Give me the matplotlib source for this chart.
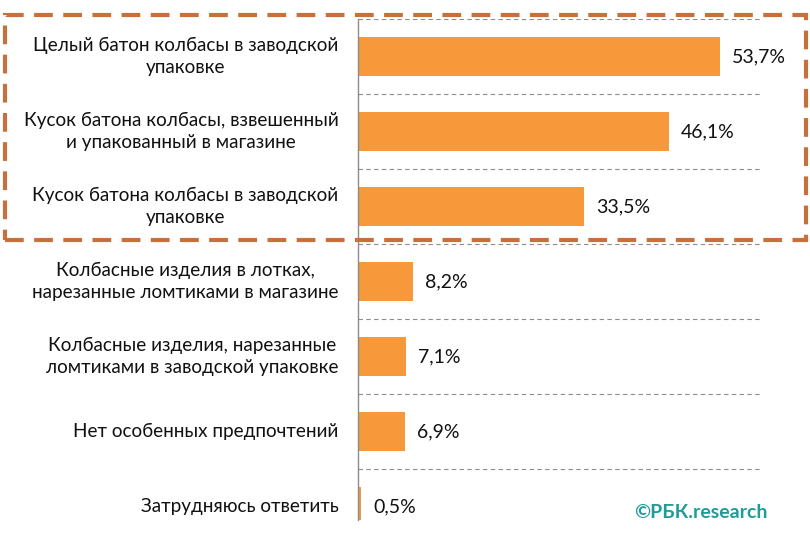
import matplotlib.pyplot as plt
from matplotlib.patches import Rectangle

# Chart data (share of respondents, %)
labels = [
    "Целый батон колбасы в заводской\nупаковке",
    "Кусок батона колбасы, взвешенный\nи упакованный в магазине",
    "Кусок батона колбасы в заводской\nупаковке",
    "Колбасные изделия в лотках,\nнарезанные ломтиками в магазине",
    "Колбасные изделия, нарезанные\nломтиками в заводской упаковке",
    "Нет особенных предпочтений",
    "Затрудняюсь ответить",
]
values = [53.7, 46.1, 33.5, 8.2, 7.1, 6.9, 0.5]
value_labels = ["53,7%", "46,1%", "33,5%", "8,2%", "7,1%", "6,9%", "0,5%"]

bar_color = "#F7993A"
box_color = "#C8703C"

plt.rcParams['font.family'] = ['Lato', 'DejaVu Sans']

fig = plt.figure(figsize=(8.1, 5.44), dpi=100)
ax = fig.add_axes([0.442, 0.044, 0.499, 0.921])

pos = list(range(len(values)))
ax.barh(pos, values, height=0.53, color=bar_color, zorder=2)
ax.set_xlim(0, 60)
ax.set_ylim(6.18, -0.5)

# dashed separators between categories
for y in [-0.5, 0.5, 1.5, 2.5, 3.5, 4.5, 5.5]:
    ax.axhline(y, color="#8c8c8c", lw=0.8, ls=(0, (4, 3)), zorder=1)

for p, v, t in zip(pos, values, value_labels):
    ax.text(v + 1.8, p, t, va="center", ha="left", fontsize=14, color="#111111")

for p, t in zip(pos, labels):
    ax.text(-2.9, p, t, va="center", ha="right", multialignment="center",
            fontsize=13.6, linespacing=1.35, color="#111111", clip_on=False)

ax.set_xticks([])
ax.set_yticks([])
for s in ["top", "right", "bottom"]:
    ax.spines[s].set_visible(False)
ax.spines["left"].set_color("#8c8c8c")
ax.spines["left"].set_linewidth(1.0)

# dashed highlight box around top three rows (figure pixels)
W, H = 810, 544
box = Rectangle((5 / W, 1 - 240 / H), 801 / W, 225 / H, transform=fig.transFigure,
                fill=False, edgecolor=box_color, lw=3.0, ls=(0, (4.5, 2.5)), zorder=5)
fig.patches.append(box)

fig.text(768 / W, 1 - 513 / H, "©РБК.research", ha="right", va="center",
         fontsize=14, fontweight="bold", color="#1E9C98")

fig.savefig("out.png", dpi=100)
